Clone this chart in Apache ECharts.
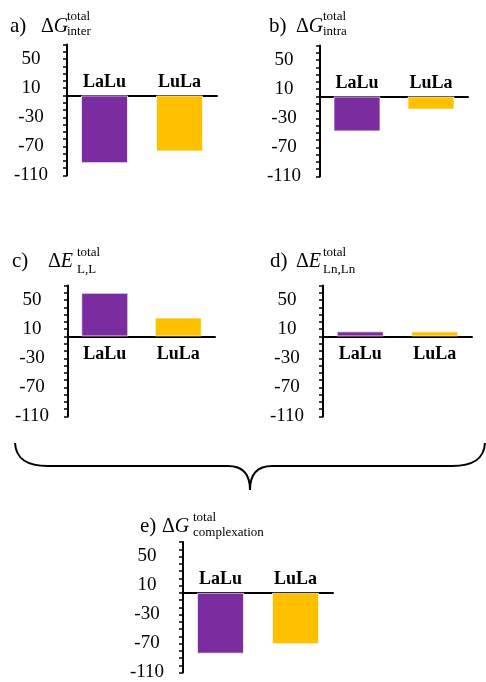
<!DOCTYPE html>
<html>
<head>
<meta charset="utf-8">
<script src="https://cdn.jsdelivr.net/npm/echarts@6/dist/echarts.min.js"></script>
<style>
  html, body { margin: 0; padding: 0; background: #fff; }
  #chart { width: 486px; height: 682px; }
</style>
</head>
<body>
<div id="chart"></div>
<script>
// Categories and energy components (kcal/mol)
const categories = ['LaLu', 'LuLa'];
const dGinter = [-93, -77];
const dGintra = [-48, -18];
const dELL = [60, 26];
const dELnLn = [7, 7];
const dGcomplexation = [-84, -71];
const yTickLabels = [-110, -70, -30, 10, 50];
const barColors = ['#7B2C9F', '#FFC000'];

const Y_MIN = -110, Y_MAX = 70;
const SERIF = '"Liberation Serif", "Times New Roman", serif';

// panel geometry: [left, top, width, height]; category labels sit above the axis when bars go down
const panels = [
  { data: dGinter, box: [67, 44.5, 150, 131], labelsAbove: true },
  { data: dGintra, box: [320, 45.5, 148, 131], labelsAbove: true },
  { data: dELL, box: [68, 285.5, 147, 131], labelsAbove: false },
  { data: dELnLn, box: [323, 285.5, 149, 131], labelsAbove: false },
  { data: dGcomplexation, box: [183, 542, 150, 131], labelsAbove: true }
];

const grid = [], xAxis = [], yAxis = [], series = [];
panels.forEach((p, i) => {
  const h = p.box[3];
  grid.push({ left: p.box[0], top: p.box[1], width: p.box[2], height: h, containLabel: false });
  // lift the category axis (line + labels) from the grid bottom up to y = 0
  const zeroOffset = -h * (0 - Y_MIN) / (Y_MAX - Y_MIN);
  xAxis.push({
    type: 'category', gridIndex: i, data: categories, position: 'bottom', offset: zeroOffset,
    axisLine: { onZero: false, lineStyle: { color: '#000', width: 2 } },
    axisTick: { show: false },
    axisLabel: {
      inside: p.labelsAbove, margin: p.labelsAbove ? 4.5 : 9,
      color: '#000', fontFamily: SERIF, fontWeight: 'bold', fontSize: 18
    },
    splitLine: { show: false }
  });
  yAxis.push({
    type: 'value', gridIndex: i, min: Y_MIN, max: Y_MAX, interval: 10,
    axisLine: { show: true, lineStyle: { color: '#000', width: 2 } },
    axisTick: { show: true, length: 4, lineStyle: { color: '#000', width: 1.5 } },
    axisLabel: {
      margin: 36, align: 'center', color: '#000', fontFamily: SERIF, fontSize: 19,
      formatter: v => (yTickLabels.indexOf(Math.round(v)) >= 0 ? String(Math.round(v)) : '')
    },
    splitLine: { show: false }
  });
  series.push({
    type: 'bar', xAxisIndex: i, yAxisIndex: i, barWidth: 47,
    data: p.data.map((v, k) => ({
      value: v,
      itemStyle: { color: barColors[k], borderColor: 'rgba(255,255,255,0.7)', borderWidth: 1 }
    })),
    animation: false
  });
});

// panel titles: letter, symbol with super/subscripts
function title(letter, sym, sup, sub, lx, sx, ox, baseY, supY, subY) {
  return [
    { type: 'text', x: lx, y: baseY, style: { text: letter, font: '21px ' + SERIF, fill: '#000', textVerticalAlign: 'bottom' } },
    { type: 'text', x: sx, y: baseY, style: {
        text: '{n|Δ}{i|' + sym + '}', fill: '#000', textVerticalAlign: 'bottom',
        rich: { n: { fontSize: 20, fontFamily: SERIF, color: '#000' },
                i: { fontSize: 20, fontFamily: SERIF, fontStyle: 'italic', color: '#000' } } } },
    { type: 'text', x: ox, y: supY, style: { text: sup, font: '13px ' + SERIF, fill: '#000', textVerticalAlign: 'bottom' } },
    { type: 'text', x: ox, y: subY, style: { text: sub, font: '13px ' + SERIF, fill: '#000', textVerticalAlign: 'bottom' } }
  ];
}

// curly brace joining panels c and d to panel e
const braceStyle = { fill: 'none', stroke: '#000', lineWidth: 2 };
const brace = [
  { type: 'bezierCurve', shape: { x1: 15, y1: 443, cpx1: 16, cpy1: 460, cpx2: 28, cpy2: 466, x2: 48, y2: 466 }, style: braceStyle },
  { type: 'line', shape: { x1: 48, y1: 466, x2: 228, y2: 466 }, style: braceStyle },
  { type: 'bezierCurve', shape: { x1: 228, y1: 466, cpx1: 242, cpy1: 466, cpx2: 250, cpy2: 474, x2: 250, y2: 490 }, style: braceStyle },
  { type: 'bezierCurve', shape: { x1: 250, y1: 490, cpx1: 250, cpy1: 474, cpx2: 258, cpy2: 466, x2: 272, y2: 466 }, style: braceStyle },
  { type: 'line', shape: { x1: 272, y1: 466, x2: 452, y2: 466 }, style: braceStyle },
  { type: 'bezierCurve', shape: { x1: 452, y1: 466, cpx1: 472, cpy1: 466, cpx2: 484, cpy2: 460, x2: 485, y2: 443 }, style: braceStyle }
];

const graphic = [].concat(
  title('a)', 'G', 'total', 'inter', 10, 41, 67, 37, 23, 38),
  title('b)', 'G', 'total', 'intra', 269, 296, 323, 37, 23, 38),
  title('c)', 'E', 'total', 'L,L', 12, 48, 77, 272, 259, 276),
  title('d)', 'E', 'total', 'Ln,Ln', 270, 296, 323, 272, 259, 276),
  title('e)', 'G', 'total', 'complexation', 140, 162, 193, 537, 524, 539),
  brace
);

const chart = echarts.init(document.getElementById('chart'), null, { renderer: 'canvas' });
chart.setOption({ animation: false, grid, xAxis, yAxis, series, graphic });
</script>
</body>
</html>
